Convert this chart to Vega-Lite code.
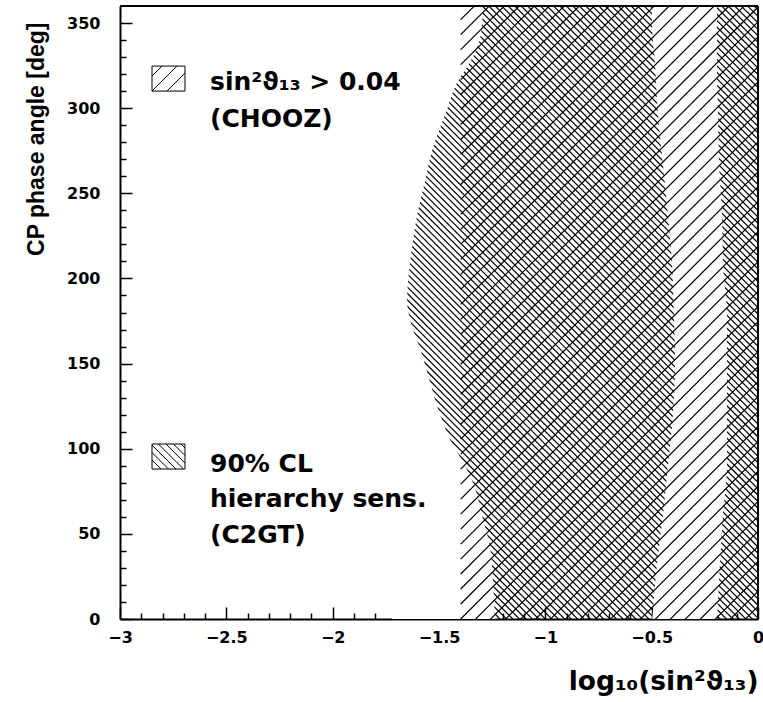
{
  "$schema": "https://vega.github.io/schema/vega-lite/v6.json",
  "width": 638,
  "height": 613,
  "autosize": {"type": "none"},
  "padding": {"left": 120, "top": 6, "right": 5, "bottom": 83},
  "background": "white",
  "view": {"stroke": null},
  "config": {
    "axis": {"grid": false, "zindex": 1, "domainColor": "black", "tickColor": "black", "labelColor": "black", "titleColor": "black",
      "labelFont": "DejaVu Sans", "labelFontWeight": "bold", "labelFontSize": 16, "titleFont": "DejaVu Sans", "titleFontWeight": "bold"}
  },
  "datasets": {
    "back": [{"a":0},{"a":3.8},{"a":7.6},{"a":11.4},{"a":15.2},{"a":19},{"a":22.8},{"a":26.6},{"a":30.4},{"a":34.2},
      {"a":38},{"a":41.8},{"a":45.6},{"a":49.4},{"a":53.2},{"a":57},{"a":60.8},{"a":64.6},{"a":68.4},{"a":72.2},
      {"a":76},{"a":79.8},{"a":83.6},{"a":87.4},{"a":91.2},{"a":95},{"a":98.8},{"a":102.6},{"a":106.4},{"a":110.2},
      {"a":114},{"a":117.8},{"a":121.6},{"a":125.4},{"a":129.2},{"a":133},{"a":136.8},{"a":140.6},{"a":144.4},{"a":148.2},
      {"a":152},{"a":155.8},{"a":159.6},{"a":163.4},{"a":167.2},{"a":171},{"a":174.8},{"a":178.6},{"a":182.4},{"a":186.2},
      {"a":190},{"a":193.8},{"a":197.6},{"a":201.4},{"a":205.2},{"a":209},{"a":212.8},{"a":216.6},{"a":220.4},{"a":224.2},
      {"a":228},{"a":231.8},{"a":235.6},{"a":239.4},{"a":243.2},{"a":247},{"a":250.8},{"a":254.6},{"a":258.4},{"a":262.2},
      {"a":266},{"a":269.8},{"a":273.6},{"a":277.4},{"a":281.2},{"a":285},{"a":288.8},{"a":292.6},{"a":296.4},{"a":300.2},
      {"a":304},{"a":307.8},{"a":311.6},{"a":315.4},{"a":319.2},{"a":323},{"a":326.8},{"a":330.6},{"a":334.4},{"a":338.2},
      {"a":342},{"a":345.8},{"a":349.6},{"a":353.4},{"a":357.2},{"a":361},{"a":364.8},{"a":368.6},{"a":372.4},{"a":376.2},
      {"a":380},{"a":383.8},{"a":387.6},{"a":391.4},{"a":395.2},{"a":399},{"a":402.8},{"a":406.6},{"a":410.4},{"a":414.2},
      {"a":418},{"a":421.8},{"a":425.6},{"a":429.4},{"a":433.2},{"a":437},{"a":440.8},{"a":444.6},{"a":448.4},{"a":452.2},
      {"a":456},{"a":459.8},{"a":463.6},{"a":467.4},{"a":471.2},{"a":475},{"a":478.8},{"a":482.6},{"a":486.4},{"a":490.2},
      {"a":494},{"a":497.8},{"a":501.6},{"a":505.4},{"a":509.2},{"a":513},{"a":516.8},{"a":520.6},{"a":524.4},{"a":528.2},
      {"a":532},{"a":535.8},{"a":539.6},{"a":543.4},{"a":547.2},{"a":551},{"a":554.8},{"a":558.6},{"a":562.4},{"a":566.2},
      {"a":570},{"a":573.8}],
    "fwd": [{"a":-167.2},{"a":-158.4},{"a":-149.6},{"a":-140.8},{"a":-132},{"a":-123.2},{"a":-114.4},{"a":-105.6},{"a":-96.8},{"a":-88},
      {"a":-79.2},{"a":-70.4},{"a":-61.6},{"a":-52.8},{"a":-44},{"a":-35.2},{"a":-26.4},{"a":-17.6},{"a":-8.8},{"a":0},
      {"a":8.8},{"a":17.6},{"a":26.4},{"a":35.2},{"a":44},{"a":52.8},{"a":61.6},{"a":70.4},{"a":79.2},{"a":88},
      {"a":96.8},{"a":105.6},{"a":114.4},{"a":123.2},{"a":132},{"a":140.8},{"a":149.6},{"a":158.4},{"a":167.2},{"a":176},
      {"a":184.8},{"a":193.6},{"a":202.4},{"a":211.2},{"a":220},{"a":228.8},{"a":237.6},{"a":246.4},{"a":255.2},{"a":264},
      {"a":272.8},{"a":281.6},{"a":290.4},{"a":299.2},{"a":308},{"a":316.8},{"a":325.6},{"a":334.4},{"a":343.2},{"a":352}],
    "curve": [{"y":0,"x":-1.237},{"y":22,"x":-1.246},{"y":42,"x":-1.26},{"y":61,"x":-1.298},{"y":80,"x":-1.34},
      {"y":94,"x":-1.395},{"y":100,"x":-1.425},{"y":120,"x":-1.495},{"y":139,"x":-1.542},{"y":159,"x":-1.589},
      {"y":173,"x":-1.63},{"y":187,"x":-1.65},{"y":198,"x":-1.646},{"y":218,"x":-1.627},{"y":237,"x":-1.603},
      {"y":257,"x":-1.566},{"y":277,"x":-1.528},{"y":296,"x":-1.472},{"y":315,"x":-1.415},{"y":329,"x":-1.345},
      {"y":344,"x":-1.302},{"y":360,"x":-1.293}],
    "band": [{"y":0,"r":-0.497,"l":-0.193},{"y":32,"r":-0.475,"l":-0.179},{"y":61,"r":-0.447,"l":-0.165},
      {"y":90,"r":-0.423,"l":-0.146},{"y":120,"r":-0.4,"l":-0.146},{"y":149,"r":-0.39,"l":-0.146},
      {"y":178,"r":-0.395,"l":-0.146},{"y":208,"r":-0.404,"l":-0.165},{"y":237,"r":-0.423,"l":-0.169},
      {"y":267,"r":-0.447,"l":-0.183},{"y":296,"r":-0.47,"l":-0.188},{"y":325,"r":-0.484,"l":-0.193},
      {"y":349,"r":-0.498,"l":-0.193},{"y":360,"r":-0.499,"l":-0.193}],
    "boxes": [{"x1":-2.8495,"x2":-2.6944,"y1":310.04,"y2":324.72},{"x1":-2.8495,"x2":-2.6944,"y1":88.08,"y2":102.76}],
    "boxhatch": [
      {"x1":-2.8495,"y1":318.85,"x2":-2.8025,"y2":324.72},
      {"x1":-2.8495,"y1":310.04,"x2":-2.732,"y2":324.72},
      {"x1":-2.779,"y1":310.04,"x2":-2.6944,"y2":320.61},
      {"x1":-2.7132,"y1":102.76,"x2":-2.6944,"y2":100.41},
      {"x1":-2.7484,"y1":102.76,"x2":-2.6944,"y2":96.01},
      {"x1":-2.7837,"y1":102.76,"x2":-2.6944,"y2":91.6},
      {"x1":-2.819,"y1":102.76,"x2":-2.7014,"y2":88.08},
      {"x1":-2.8495,"y1":102.17,"x2":-2.7367,"y2":88.08},
      {"x1":-2.8495,"y1":97.77,"x2":-2.7719,"y2":88.08},
      {"x1":-2.8495,"y1":93.36,"x2":-2.8072,"y2":88.08}],
    "labels": [{"t":"sin²ϑ₁₃ > 0.04","x":-2.5768,"y":310.6},{"t":"(CHOOZ)","x":-2.5768,"y":288.9},
      {"t":"90% CL","x":-2.5768,"y":86.3},{"t":"hierarchy sens.","x":-2.5768,"y":65.8},{"t":"(C2GT)","x":-2.5768,"y":44.6}],
    "frame": [{"x1":-3,"x2":0,"y1":360,"y2":360},{"x1":0,"x2":0,"y1":0,"y2":360}]
  },
  "resolve": {"axis": {"x": "independent", "y": "independent"}},
  "layer": [
    {
      "data": {"name": "back"},
      "mark": {"type": "rule", "clip": true, "color": "black", "strokeWidth": 1.2, "y2Offset": 361.5},
      "encoding": {
        "x": {"datum": -1.7, "type": "quantitative", "scale": {"domain": [-3, 0], "nice": false, "zero": false}, "axis": null},
        "x2": {"datum": 0},
        "y": {"field": "a", "type": "quantitative", "scale": {"domain": [0, 360], "nice": false, "zero": false},
          "axis": {"orient": "left", "values": [0, 50, 100, 150, 200, 250, 300, 350], "tickSize": -12, "tickWidth": 1.5, "labelPadding": 32,
            "labelFont": "DejaVu Sans", "labelFontWeight": "bold", "labelFontSize": 16,
            "domainWidth": 2, "title": "CP phase angle [deg]", "titleFont": "Liberation Sans", "titleFontSize": 23, "titleAnchor": "end",
            "titleY": 16, "titlePadding": 18, "labelOverlap": false, "labelFlush": false}},
        "y2": {"field": "a"}
      }
    },
    {
      "data": {"name": "curve"},
      "mark": {"type": "area", "orient": "horizontal", "color": "white", "clip": true, "interpolate": "monotone"},
      "encoding": {
        "y": {"field": "y", "type": "quantitative", "scale": {"domain": [0, 360], "nice": false, "zero": false},
          "axis": {"orient": "left", "values": [10,20,30,40,60,70,80,90,110,120,130,140,160,170,180,190,210,220,230,240,260,270,280,290,310,320,330,340],
            "tickSize": -6, "tickWidth": 1.5, "labels": false, "domain": false, "title": null}},
        "x": {"field": "x", "type": "quantitative", "scale": {"domain": [-3, 0], "nice": false, "zero": false}, "axis": null},
        "x2": {"datum": -1.72}
      }
    },
    {
      "data": {"name": "band"},
      "mark": {"type": "area", "orient": "horizontal", "color": "white", "clip": true, "interpolate": "monotone"},
      "encoding": {
        "y": {"field": "y", "type": "quantitative", "scale": {"domain": [0, 360], "nice": false, "zero": false}, "axis": null},
        "x": {"field": "r", "type": "quantitative", "scale": {"domain": [-3, 0], "nice": false, "zero": false},
          "axis": {"orient": "bottom", "values": [-3, -2.5, -2, -1.5, -1, -0.5, 0], "format": ".1~f", "tickSize": -12, "tickWidth": 1.5,
            "labelPadding": 22, "labelFont": "DejaVu Sans", "labelFontWeight": "bold", "labelFontSize": 16,
            "domainWidth": 2, "title": "log₁₀(sin²ϑ₁₃)", "titleFontSize": 26.5, "titleAnchor": "end",
            "titlePadding": 23, "labelFlush": false, "labelOverlap": false}},
        "x2": {"field": "l"}
      }
    },
    {
      "data": {"name": "fwd"},
      "mark": {"type": "rule", "clip": true, "color": "black", "strokeWidth": 1.2, "y2Offset": -297.3},
      "encoding": {
        "x": {"datum": -1.39794, "type": "quantitative", "scale": {"domain": [-3, 0], "nice": false, "zero": false}, "axis": null},
        "x2": {"datum": 0},
        "y": {"field": "a", "type": "quantitative", "scale": {"domain": [0, 360], "nice": false, "zero": false}, "axis": null},
        "y2": {"field": "a"}
      }
    },
    {
      "data": {"name": "boxes"},
      "mark": {"type": "rect", "fill": "white", "stroke": "black", "strokeWidth": 1},
      "encoding": {
        "x": {"field": "x1", "type": "quantitative", "scale": {"domain": [-3, 0], "nice": false, "zero": false},
          "axis": {"orient": "bottom", "values": [-2.9,-2.8,-2.7,-2.6,-2.4,-2.3,-2.2,-2.1,-1.9,-1.8,-1.7,-1.6,-1.4,-1.3,-1.2,-1.1,-0.9,-0.8,-0.7,-0.6,-0.4,-0.3,-0.2,-0.1],
            "tickSize": -6, "tickWidth": 1.5, "labels": false, "domain": false, "title": null}},
        "x2": {"field": "x2"},
        "y": {"field": "y1", "type": "quantitative", "scale": {"domain": [0, 360], "nice": false, "zero": false}, "axis": null},
        "y2": {"field": "y2"}
      }
    },
    {
      "data": {"name": "boxhatch"},
      "mark": {"type": "rule", "color": "black", "strokeWidth": 1},
      "encoding": {
        "x": {"field": "x1", "type": "quantitative", "scale": {"domain": [-3, 0], "nice": false, "zero": false}, "axis": null},
        "x2": {"field": "x2"},
        "y": {"field": "y1", "type": "quantitative", "scale": {"domain": [0, 360], "nice": false, "zero": false}, "axis": null},
        "y2": {"field": "y2"}
      }
    },
    {
      "data": {"name": "frame"},
      "mark": {"type": "rule", "color": "black", "strokeWidth": 2},
      "encoding": {
        "x": {"field": "x1", "type": "quantitative", "scale": {"domain": [-3, 0], "nice": false, "zero": false}, "axis": null},
        "x2": {"field": "x2"},
        "y": {"field": "y1", "type": "quantitative", "scale": {"domain": [0, 360], "nice": false, "zero": false}, "axis": null},
        "y2": {"field": "y2"}
      }
    },
    {
      "data": {"name": "labels"},
      "mark": {"type": "text", "align": "left", "baseline": "alphabetic", "font": "DejaVu Sans", "fontWeight": "bold", "fontSize": 25, "color": "black"},
      "encoding": {
        "x": {"field": "x", "type": "quantitative", "scale": {"domain": [-3, 0], "nice": false, "zero": false}, "axis": null},
        "y": {"field": "y", "type": "quantitative", "scale": {"domain": [0, 360], "nice": false, "zero": false}, "axis": null},
        "text": {"field": "t"}
      }
    }
  ]
}
